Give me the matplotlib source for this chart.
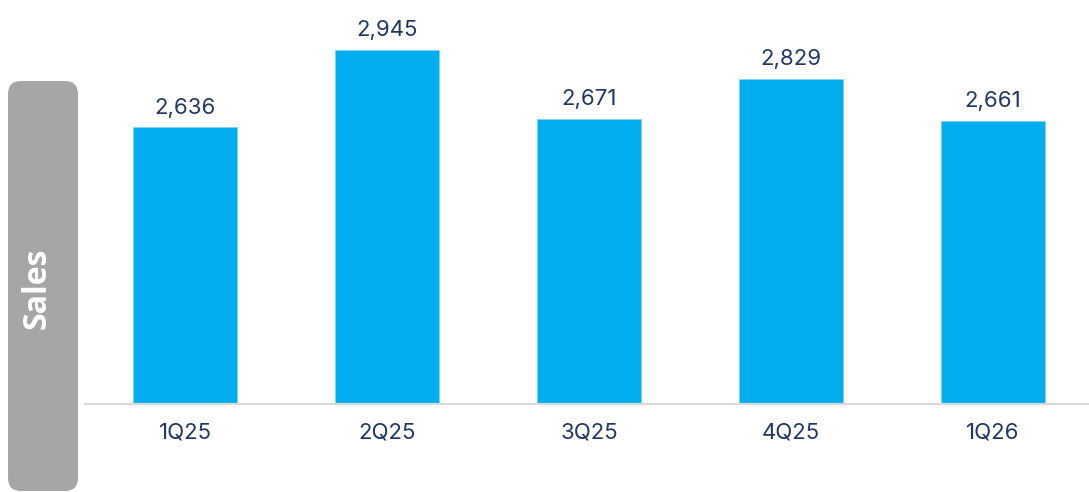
import matplotlib.pyplot as plt
from matplotlib.patches import FancyBboxPatch

# quarterly sales
quarters = ["1Q25", "2Q25", "3Q25", "4Q25", "1Q26"]
sales = [2636, 2945, 2671, 2829, 2661]

bar_color = "#00AEEF"
text_color = "#1F3864"

plt.rcParams['font.family'] = ['Inter', 'DejaVu Sans']

fig = plt.figure(figsize=(10.89, 4.92), dpi=100)
ax = fig.add_axes([85 / 1089, 88 / 492, 1 - 85 / 1089, 404 / 492])

x = range(len(quarters))
bars = ax.bar(x, sales, width=0.515, color=bar_color, edgecolor="#7FD3F2", linewidth=0.6, zorder=2)

for b, v in zip(bars, sales):
    ax.annotate(f"{v:,}", (b.get_x() + b.get_width() / 2, v), xytext=(0, 7),
                textcoords="offset points", ha="center", va="bottom",
                fontsize=16, color=text_color)

ax.set_xlim(-0.495, 4.475)
ax.set_ylim(1529, 3145)
ax.set_xticks(list(x))
ax.set_xticklabels(quarters, fontsize=16, color=text_color)
ax.tick_params(axis="x", length=0, pad=13)
ax.set_yticks([])
for s in ["top", "right", "left"]:
    ax.spines[s].set_visible(False)
ax.spines["bottom"].set_color("#D9D9D9")
ax.spines["bottom"].set_linewidth(1.6)
ax.spines["bottom"].set_zorder(3)

# grey side label box
box = FancyBboxPatch((8 / 1089, 1 / 492), 70 / 1089, 410 / 492,
                     boxstyle="round,pad=0,rounding_size=0.012",
                     transform=fig.transFigure, facecolor="#A6A6A6",
                     edgecolor="none", mutation_aspect=1089 / 492)
fig.patches.append(box)
fig.text(37 / 1089, 1 - 288 / 492, "Sales", rotation=90, ha="center", va="center",
         fontsize=23, fontweight="bold", color="white", family=['Open Sans', 'DejaVu Sans'])

fig.savefig("out.png", dpi=100)
